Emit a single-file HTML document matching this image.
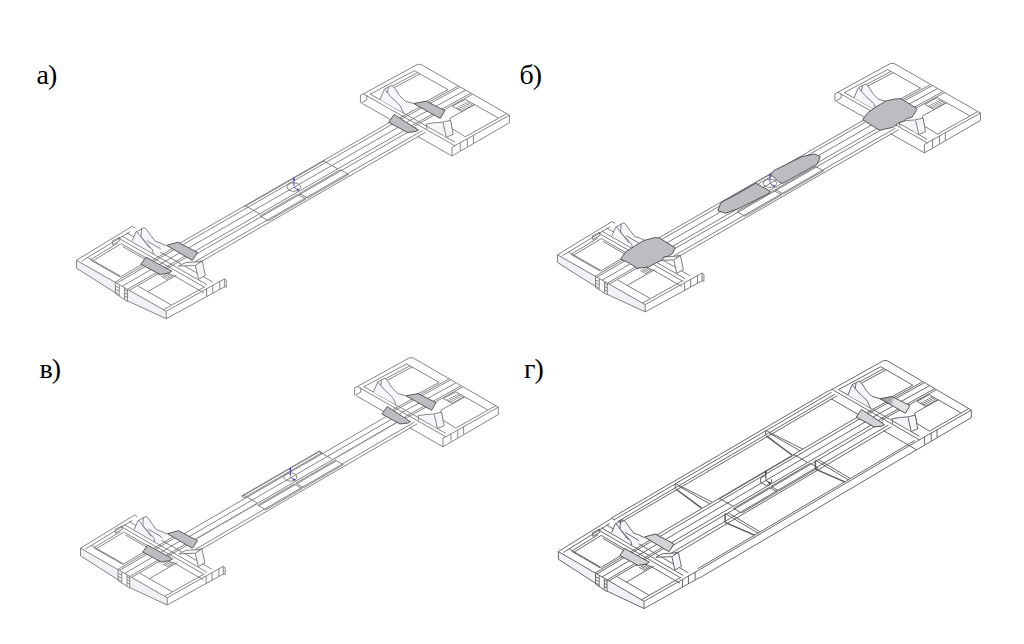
<!DOCTYPE html><html><head><meta charset="utf-8"><style>
html,body{margin:0;padding:0;background:#fff;width:1024px;height:644px;overflow:hidden}
.l{position:absolute;font-family:"Liberation Serif",serif;font-size:28px;line-height:1;color:#000;white-space:nowrap;letter-spacing:-1px}
svg{position:absolute;left:0;top:0}
</style></head><body>
<svg width="1024" height="644" viewBox="0 0 1024 644">
<defs><linearGradient id="gr1" gradientUnits="userSpaceOnUse" x1="413" y1="103" x2="445" y2="112"><stop offset="0" stop-color="#9c9ca2"/><stop offset="0.38" stop-color="#a8a8ae"/><stop offset="0.45" stop-color="#dcdce0"/><stop offset="1" stop-color="#e6e6e8"/></linearGradient><g id="MV"><path d="M174.88,250.55 L402.75,119.43 M180.03,253.5 L407.87,122.33 M185.74,256.77 L413.55,125.54 M194.67,261.88 L422.43,130.57 M197.71,263.62 L425.45,132.28 M244.01,206.87 L324.42,160.62 M243.46,206.56 L323.87,160.31 M246.31,208.18 L326.72,161.92 M243.46,206.56 L247.23,208.71 M323.87,160.31 L327.63,162.44 M245.26,205.63 L259.51,213.75 M323.28,160.75 L337.5,168.83 M260.09,216.04 L297.72,194.37 M261.2,216.67 L298.82,194.99 M268.36,220.76 L305.98,199.07 M260.09,216.04 L268.36,220.76 M297.72,194.37 L305.98,199.07 M299.43,193.38 L340.47,169.74 M300.53,194.01 L341.57,170.36 M307.69,198.09 L348.73,174.42 M299.43,193.38 L307.69,198.09 M340.47,169.74 L348.73,174.42"/></g><g id="HV"><path d="M185.0,256.34 L187.16,256.79 M186.9,255.25 L189.06,255.7 M188.8,254.16 L190.96,254.61 M190.7,253.06 L192.85,253.51 M192.6,251.97 L194.75,252.42 M194.49,250.88 L196.65,251.33 M196.39,249.78 L198.55,250.23 M198.29,248.69 L200.45,249.14 M200.19,247.6 L202.35,248.04 M202.09,246.5 L204.24,246.95 M203.99,245.41 L206.14,245.86 M205.89,244.32 L208.04,244.76 M207.78,243.22 L209.94,243.67 M209.68,242.13 L211.84,242.58 M211.58,241.04 L213.74,241.48 M213.48,239.94 L215.64,240.39 M215.38,238.85 L217.53,239.3 M217.28,237.76 L219.43,238.2 M219.17,236.66 L221.33,237.11 M221.07,235.57 L223.23,236.02 M222.97,234.48 L225.13,234.92 M224.87,233.38 L227.03,233.83 M226.77,232.29 L228.92,232.73 M228.67,231.19 L230.82,231.64 M230.57,230.1 L232.72,230.55 M232.46,229.01 L234.62,229.45 M234.36,227.91 L236.52,228.36 M236.26,226.82 L238.42,227.27 M238.16,225.73 L240.31,226.17 M240.06,224.63 L242.21,225.08 M241.96,223.54 L244.11,223.99 M243.85,222.45 L246.01,222.89 M245.75,221.35 L247.91,221.8 M247.65,220.26 L249.81,220.71 M249.55,219.17 L251.7,219.61 M251.45,218.07 L253.6,218.52 M253.35,216.98 L255.5,217.42 M255.25,215.89 L257.4,216.33 M257.14,214.79 L259.3,215.24 M338.78,167.77 L340.93,168.21 M340.68,166.68 L342.83,167.12 M342.57,165.59 L344.73,166.03 M344.47,164.49 L346.62,164.93 M346.37,163.4 L348.52,163.84 M348.27,162.31 L350.42,162.75 M350.17,161.21 L352.32,161.65 M352.07,160.12 L354.22,160.56 M353.96,159.03 L356.12,159.47 M355.86,157.93 L358.01,158.37 M357.76,156.84 L359.91,157.28 M359.66,155.75 L361.81,156.18 M361.56,154.65 L363.71,155.09 M363.46,153.56 L365.61,154.0 M365.36,152.47 L367.51,152.9 M367.25,151.37 L369.4,151.81 M369.15,150.28 L371.3,150.72 M371.05,149.19 L373.2,149.62 M372.95,148.09 L375.1,148.53 M374.85,147.0 L377.0,147.44 M376.75,145.91 L378.9,146.34 M378.64,144.81 L380.79,145.25 M380.54,143.72 L382.69,144.16 M382.44,142.62 L384.59,143.06 M384.34,141.53 L386.49,141.97 M386.24,140.44 L388.39,140.87 M388.14,139.34 L390.29,139.78 M390.04,138.25 L392.18,138.69 M391.93,137.16 L394.08,137.59 M393.83,136.06 L395.98,136.5 M395.73,134.97 L397.88,135.41 M397.63,133.88 L399.78,134.31 M399.53,132.78 L401.68,133.22 M401.43,131.69 L403.58,132.13 M403.32,130.6 L405.47,131.03 M405.22,129.5 L407.37,129.94 M407.12,128.41 L409.27,128.85 M409.02,127.32 L411.17,127.75 M410.92,126.22 L413.07,126.66"/></g><g id="GD"><path d="M199.6,196.1 L226.5,215.7 M294.43,141.66 L321.33,161.26 M251.2,221.6 L251.2,230.3 M251.2,230.3 L281.9,243.4 M345.9,166.94 L345.9,175.64 M345.9,175.64 L376.6,188.74"/></g><g id="E"><path d="M76.4,260.3 L76.4,268.1 L115.4,292.8 L115.4,282.6 L127.4,289.4 L127.4,300.8 L166.25,318.75 L166.25,311.25 L76.4,260.3" fill="#f1f1f5" stroke="none"/><path d="M360.45,95.5 L417.4,64.4 L420.9,64.4 L509.4,115.2 M509.4,115.2 L509.4,122.8 L452.0,156.0 M509.4,115.2 L452.0,147.3 M389.6,87.54 L417.75,72.57 M390.71,89.45 L420.01,73.85 M414.41,70.69 L448.03,89.64 M465.21,99.32 L498.2,117.91 M465.34,136.77 L506.69,113.68 M399.82,117.77 L457.99,86.24 M401.65,118.81 L459.79,87.26 M407.14,121.92 L465.2,90.31 M412.63,125.03 L470.61,93.36 M414.46,126.06 L472.42,94.37 M418.94,105.39 L448.03,89.64 M369.8,94.35 L414.41,70.69 M363.39,93.94 L454.87,145.69 M370.06,94.12 L454.89,142.09 M449.85,118.34 L451.9,127.88 M451.33,128.2 L465.34,136.77 M449.85,118.34 L474.7,104.67 M460.32,142.65 L460.32,150.45 M467.33,138.73 L467.33,146.53 M473.41,135.33 L473.41,143.13 M452.46,106.29 L465.21,99.32 M452.46,106.29 L461.53,111.41 M461.53,111.41 L474.25,104.41 M456.34,107.19 L461.78,110.26 M458.37,106.08 L463.8,109.15 M460.39,104.97 L465.83,108.04 M462.42,103.86 L467.85,106.92 M464.45,102.75 L469.87,105.81 M466.47,101.64 L471.9,104.7 M362.28,103.54 L397.99,123.74 M417.21,136.12 L452.0,156.0 M135.35,228.0 L132.35,226.2 L76.4,260.3 L166.25,311.25 L224.4,278.9 M76.4,260.3 L76.4,268.1 L115.4,292.8 M127.4,300.8 L166.25,318.75 L166.25,311.25 M166.25,318.75 L224.4,286.9 M115.4,282.6 L115.4,293.7 L127.4,301.3 L127.4,289.4 M119.2,284.8 L119.2,296.0 M124.6,287.8 L124.6,299.3 M115.4,286.0 L118.6,287.8 M124.6,289.5 L127.4,291.1 M115.4,289.2 L118.6,291.0 M124.6,292.7 L127.4,294.3 M115.4,292.4 L118.6,294.2 M124.6,295.9 L127.4,297.5 M117.93,243.06 L90.99,259.37 M121.33,243.68 L93.25,260.65 M87.66,257.47 L121.2,276.52 M138.33,286.24 L171.24,304.93 M205.37,286.39 L163.55,309.72 M171.93,248.86 L115.04,282.21 M173.77,249.92 L116.83,283.23 M179.3,253.08 L122.22,286.28 M184.82,256.24 L127.61,289.34 M186.66,257.29 L129.41,290.36 M149.62,259.82 L121.2,276.52 M130.24,231.61 L81.5,261.22 M90.15,259.88 L120.35,277.02 M126.71,232.89 L212.47,281.92 M121.67,235.95 L207.24,284.83 M118.31,238.0 L203.76,286.78 M121.33,243.68 L149.62,259.82 M176.54,275.19 L147.79,291.62 M112.25,241.0 L119.75,237.25 L119.75,240.75 L112.6,244.75 L112.25,241.0 M122.88,246.6 L153.03,263.82 M172.23,274.78 L203.76,292.78 M219.75,281.49 L219.75,289.29 M212.77,285.37 L212.77,293.17 M206.61,288.8 L206.61,296.6 M164.67,271.04 L157.8,275.01 M164.67,271.04 L172.88,275.72 M172.88,275.72 L165.98,279.67 M166.26,273.26 L170.82,275.86 M164.54,274.25 L169.09,276.85 M162.82,275.24 L167.37,277.83 M161.1,276.23 L165.65,278.82"/><path d="M380,99.75 L384.4,89.1 L391.9,85.4 L395,88.5 L399.4,95.4 L405,101 L413.75,103.5 L405,113.5 L380,99.75 M426.25,124.1 L441.9,122.25 L450.6,120.4 L453.1,134.1 L446.25,137.25 L426.25,124.1 M132.25,240.75 L136,232 L144.1,227.6 L146.6,229.5 L151,235.75 L155.4,241.4 L161,243.25 L166,245.75 L157.25,255.75 L132.25,240.75 M178.5,266.1 L186,262.4 L202.25,260.8 L205.4,275.5 L198.5,279.25 L195.4,265.5 L178.5,266.1" fill="#f6f6fa" stroke="none"/><path d="M380.0,99.75 L384.4,89.1 L391.9,85.4 L395.0,88.5 L399.4,95.4 L405.0,101.0 L413.75,103.5 M385.0,89.75 L390.6,96.6 L400.0,105.4 L403.75,113.5 M388.5,87.6 L387.5,93.0 M426.25,124.1 L434.0,122.8 L441.9,122.25 L450.6,120.4 M443.1,122.9 L446.25,137.25 M450.6,120.4 L453.1,134.1 M446.25,137.25 L453.75,134.1 M426.25,124.1 L427.0,129.0 M132.25,240.75 L136.0,232.0 L144.1,227.6 L146.6,229.5 L151.0,235.75 L155.4,241.4 L161.0,243.25 L166.0,245.75 M141.6,228.25 L141.0,237.0 L146.0,242.6 L152.25,249.5 L153.5,253.9 M136.6,231.4 L142.9,239.5 L149.75,248.25 M146.6,240.75 L159.75,248.25 L160.4,249.5 M178.5,266.1 L186.0,262.4 L195.4,262.0 L202.25,260.8 M178.5,266.1 L195.4,265.5 L202.25,260.8 M195.4,265.5 L198.5,279.25 L205.4,275.5 L202.25,261.1"/></g><g id="X"><path d="M452.0,147.3 L452.0,156.0 M360.45,95.5 L360.45,102.5 L361.45,103.0 L366.85,99.7 L366.85,95.2 M224.4,286.9 L224.4,278.9 M224.4,278.9 L226.3,280.3 L226.3,287.3 L224.4,286.9"/></g><g id="M"><path d="M170.92,248.28 L398.81,117.2 M173.77,249.92 L401.65,118.81 M179.48,253.18 L407.32,122.02 M185.46,256.61 L413.27,125.39 M188.68,258.45 L416.48,127.2 M194.67,261.88 L422.43,130.57 M197.71,263.62 L425.45,132.28 M244.01,206.87 L324.42,160.62 M245.26,205.63 L259.51,213.75 M323.28,160.75 L337.5,168.83 M260.09,216.04 L297.72,194.37 M268.36,220.76 L305.98,199.07 M260.09,216.04 L268.36,220.76 M297.72,194.37 L305.98,199.07 M299.43,193.38 L340.47,169.74 M307.69,198.09 L348.73,174.42 M299.43,193.38 L307.69,198.09 M340.47,169.74 L348.73,174.42"/></g><g id="GX"><path d="M131.89,225.94 L359.99,95.24 M134.84,227.62 L362.92,96.9 M138.33,229.63 L366.4,98.87 M140.82,231.05 L368.87,100.27 M222.56,277.85 L450.17,146.26 M224.4,278.9 L452.0,147.3 M224.4,287.4 L452.0,155.8 M198.9,190.4 L237.6,209.5 M202.7,193.3 L235.0,211.3 M198.9,190.4 L198.9,195.5 M293.73,135.96 L332.43,155.06 M297.53,138.86 L329.83,156.86 M293.73,135.96 L293.73,141.06 M251.2,221.2 L285.9,241.4 M254.5,220.6 L287.5,239.8 M345.9,166.54 L380.6,186.74 M349.2,165.94 L382.2,185.14"/></g><g id="pv3a3ad0"><ellipse cx="293.9" cy="187.1" rx="6.8" ry="4.2"/><g stroke="#3a3ad0" fill="#3a3ad0" stroke-width="0.9"><path d="M293.9,186.1 V180.1"/><path d="M292.8,180.1 L293.9,176.6 L295.0,180.1Z" stroke="none"/><path d="M293.9,187.1 L297.9,189.9"/><path d="M296.5,190.0 L299.3,190.9 L298.0,188.3Z" stroke="none"/></g></g><g id="pv222"><path d="M288.4,185.1 v4 l6,3.4 l5.5,-3 M288.4,185.1 l5,-3 M299.9,189.5 v-3.5"/><g stroke="#222" fill="#222" stroke-width="0.9"><path d="M293.9,186.1 V180.1"/><path d="M292.8,180.1 L293.9,176.6 L295.0,180.1Z" stroke="none"/><path d="M293.9,187.1 L297.9,189.9"/><path d="M296.5,190.0 L299.3,190.9 L298.0,188.3Z" stroke="none"/></g></g><g id="PA"><polygon points="413.7,103.5 426.2,101.2 444.9,110.6 440.25,118.4"/><polygon points="388.7,122.3 394.2,114.5 418.4,130.1 415.25,131.7 407.4,132.4"/><polygon points="166.6,245.4 177.9,242.2 197.6,252.5 192.4,260.4"/><polygon points="140.8,264.2 146,257.2 171.8,271.2 168.5,273.1 160.1,274.5"/></g><g id="PG"><polygon fill="url(#gr1)" points="413.7,103.5 426.2,101.2 444.9,110.6 440.25,118.4"/><polygon fill="#d3d3d7" points="388.7,122.3 394.2,114.5 418.4,130.1 415.25,131.7 407.4,132.4"/><polygon fill="#d3d3d7" points="166.6,245.4 177.9,242.2 197.6,252.5 192.4,260.4"/><polygon fill="#d3d3d7" points="140.8,264.2 146,257.2 171.8,271.2 168.5,273.1 160.1,274.5"/></g></defs>
<g fill="none" stroke="#707070" stroke-width="0.85" stroke-linejoin="miter" stroke-miterlimit="3">
 <g><use href="#E"/><use href="#X"/><use href="#M"/><use href="#pv3a3ad0"/></g>
 <g transform="matrix(0.977,0,0,0.977,482.8,0.5)" stroke-width="0.92"><use href="#E"/><use href="#X"/><use href="#M"/><use href="#pv3a3ad0"/></g>
 <g transform="matrix(0.965,0,0,0.972,6.77,295.2)" stroke-width="0.93" stroke="#787878"><use href="#E"/><use href="#X"/><use href="#MV"/><use href="#HV" stroke-width="0.6"/><use href="#pv3a3ad0"/></g>
 <g transform="matrix(0.9538,0,0,0.975,485.5,297.8)" stroke-width="0.94" stroke="#585858"><use href="#E"/><use href="#GX"/><use href="#M"/><use href="#pv222"/><use href="#GD" stroke="#555" stroke-width="1.5"/></g>
</g>
<g fill="#bcbcc2" stroke="#4a4a4a" stroke-width="0.9">
 <use href="#PA"/>
 <g transform="matrix(0.965,0,0,0.972,6.77,295.2)"><use href="#PA"/></g>
 <g transform="matrix(0.9538,0,0,0.975,485.5,297.8)" stroke="#3a3a3a"><use href="#PG"/></g>
 <polygon points="620.5,259.1 625.4,252.2 634.2,246.4 643.9,240.5 654.7,237.6 659.6,238.1 675.2,247.8 672.3,253.7 668.4,256.1 663.5,257.1 662.5,260 657.6,262 648.8,266.9 637.1,268.3 629.3,263"/><polygon points="862.8,119.5 867.5,113 874.3,108 880.5,104.3 886.1,100.9 894.8,99 900.4,98.7 903.5,100.3 916.5,108.4 916.8,109.6 912.2,117 907.2,118.6 905.3,119.5 904.7,120.8 898.5,123 892.9,127.3 880.5,130.1 878,129.5"/><polygon points="717.8,210.7 721,202.4 738.2,193.5 753.5,184.6 756,183.3 770,191 768.8,193.5 738.2,208.8 725.5,213.2"/><polygon points="770.7,174.4 773.8,170.6 801.9,156.6 814.6,154 820.3,156.6 817.1,164.2 808.2,169.3 782.8,183.3 778.9,182"/>
</g>
</svg>
<div class="l" style="left:36.5px;top:60.5px">а)</div>
<div class="l" style="left:519.5px;top:60.6px">б)</div>
<div class="l" style="left:39.5px;top:355.4px">в)</div>
<div class="l" style="left:524px;top:355.4px">г)</div>
</body></html>
